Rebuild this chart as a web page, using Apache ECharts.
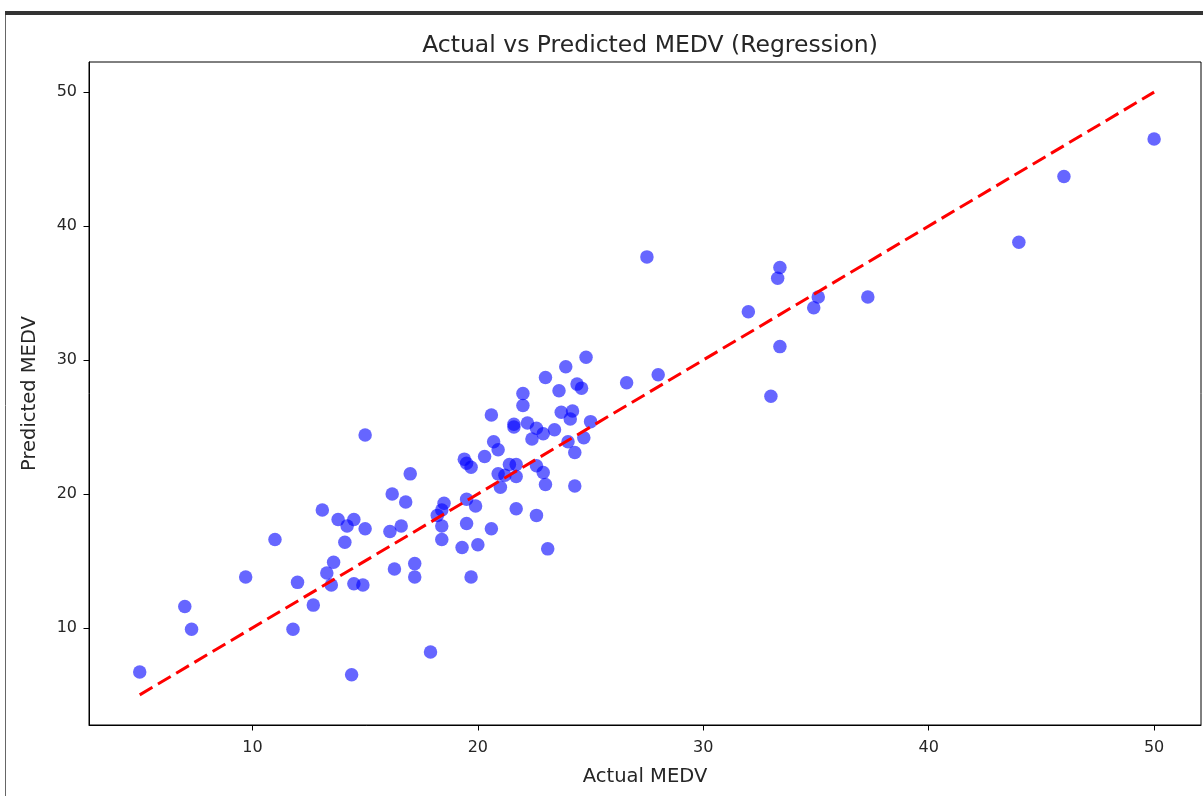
<!DOCTYPE html>
<html>
<head>
<meta charset="utf-8">
<title>Actual vs Predicted MEDV</title>
<script src="https://cdn.jsdelivr.net/npm/echarts@6/dist/echarts.min.js"></script>
<style>
  html, body { margin: 0; padding: 0; background: #fff; }
  #main { width: 1203px; height: 796px; }
</style>
</head>
<body>
<div id="main"></div>
<script>
// actual MEDV (x) and predicted MEDV (y)
const actual = [
  5.0, 7.0, 7.3, 9.7, 11.0, 12.0, 11.8, 12.7, 13.3, 13.6,
  13.5, 14.5, 14.9, 14.4, 15.0, 13.1, 13.8, 14.5, 14.2, 15.0,
  14.1, 16.2, 16.8, 17.0, 16.1, 16.6, 16.3, 17.2, 17.2, 17.9,
  18.5, 18.4, 18.2, 18.4, 18.4, 19.5, 19.9, 19.5, 19.3, 20.0,
  19.7, 20.6, 19.4, 19.5, 19.7, 20.3, 20.7, 20.9, 20.6, 20.9,
  21.2, 21.4, 21.7, 21.7, 21.0, 21.7, 22.6, 22.6, 22.9, 23.0,
  24.3, 23.1, 22.4, 22.6, 22.9, 23.4, 24.7, 24.0, 24.3, 21.6,
  21.6, 22.2, 25.0, 23.7, 24.2, 24.1, 22.0, 22.0, 23.6, 24.4,
  24.6, 23.0, 23.9, 24.8, 26.6, 28.0, 27.5, 32.0, 33.4, 33.3,
  35.1, 34.9, 37.3, 33.4, 33.0, 44.0, 46.0, 50.0
];
const predicted = [
  6.7, 11.6, 9.9, 13.8, 16.6, 13.4, 9.9, 11.7, 14.1, 14.9,
  13.2, 13.3, 13.2, 6.5, 24.4, 18.8, 18.1, 18.1, 17.6, 17.4,
  16.4, 20.0, 19.4, 21.5, 17.2, 17.6, 14.4, 14.8, 13.8, 8.2,
  19.3, 18.8, 18.4, 17.6, 16.6, 19.6, 19.1, 17.8, 16.0, 16.2,
  13.8, 17.4, 22.6, 22.3, 22.0, 22.8, 23.9, 23.3, 25.9, 21.5,
  21.4, 22.2, 22.2, 21.3, 20.5, 18.9, 18.4, 22.1, 21.6, 20.7,
  20.6, 15.9, 24.1, 24.9, 24.5, 24.8, 24.2, 23.9, 23.1, 25.2,
  25.0, 25.3, 25.4, 26.1, 26.2, 25.6, 27.5, 26.6, 27.7, 28.2,
  27.9, 28.7, 29.5, 30.2, 28.3, 28.9, 37.7, 33.6, 36.9, 36.1,
  34.7, 33.9, 34.7, 31.0, 27.3, 38.8, 43.7, 46.5
];
// ideal fit line, from min to max of actual
const fitX = [5, 50];
const fitY = [5, 50];
const xTicks = [10, 20, 30, 40, 50];
const yTicks = [10, 20, 30, 40, 50];

const points = actual.map((v, i) => [v, predicted[i]]);
const fitLine = fitX.map((v, i) => [v, fitY[i]]);

const font = 'DejaVu Sans';
const textColor = '#262626';

const chart = echarts.init(document.getElementById('main'));
chart.setOption({
  backgroundColor: '#fff',
  animation: false,
  title: {
    text: 'Actual vs Predicted MEDV (Regression)',
    left: 645,
    top: 29,
    textAlign: 'center',
    textStyle: { fontFamily: font, fontSize: 23.5, fontWeight: 'normal', color: textColor }
  },
  grid: {
    left: 89, right: 2, top: 62, bottom: 71,
    show: true, borderColor: '#000', borderWidth: 1
  },
  xAxis: {
    type: 'value',
    min: 2.75, max: 52.08,
    name: 'Actual MEDV',
    nameLocation: 'middle',
    nameGap: 42,
    nameTextStyle: { fontFamily: font, fontSize: 19.5, color: textColor },
    axisLine: { show: true, lineStyle: { color: '#000', width: 1 } },
    axisTick: { show: true, length: 5.5, customValues: xTicks, lineStyle: { color: '#000' } },
    axisLabel: { customValues: xTicks, margin: 15, fontFamily: font, fontSize: 16, color: textColor },
    splitLine: { show: false }
  },
  yAxis: {
    type: 'value',
    min: 2.75, max: 52.25,
    name: 'Predicted MEDV',
    nameLocation: 'middle',
    nameGap: 49,
    nameTextStyle: { fontFamily: font, fontSize: 19.5, color: textColor },
    axisLine: { show: true, lineStyle: { color: '#000', width: 1 } },
    axisTick: { show: true, length: 5.5, customValues: yTicks, lineStyle: { color: '#000' } },
    axisLabel: { customValues: yTicks, margin: 12, fontFamily: font, fontSize: 16, color: textColor },
    splitLine: { show: false }
  },
  graphic: [
    { type: 'rect', shape: { x: 5, y: 11, width: 1198, height: 4 }, style: { fill: '#333' }, silent: true },
    { type: 'line', shape: { x1: 5.5, y1: 15, x2: 5.5, y2: 796 }, style: { stroke: '#666', lineWidth: 1 }, silent: true }
  ],
  series: [
    {
      type: 'scatter',
      data: points,
      symbol: 'circle',
      symbolSize: 13.5,
      itemStyle: { color: '#0000ff', opacity: 0.6 }
    },
    {
      type: 'line',
      data: fitLine,
      symbol: 'none',
      lineStyle: { color: '#ff0000', width: 3, type: [14.8, 6.4] },
      z: 3
    }
  ]
});
</script>
</body>
</html>
